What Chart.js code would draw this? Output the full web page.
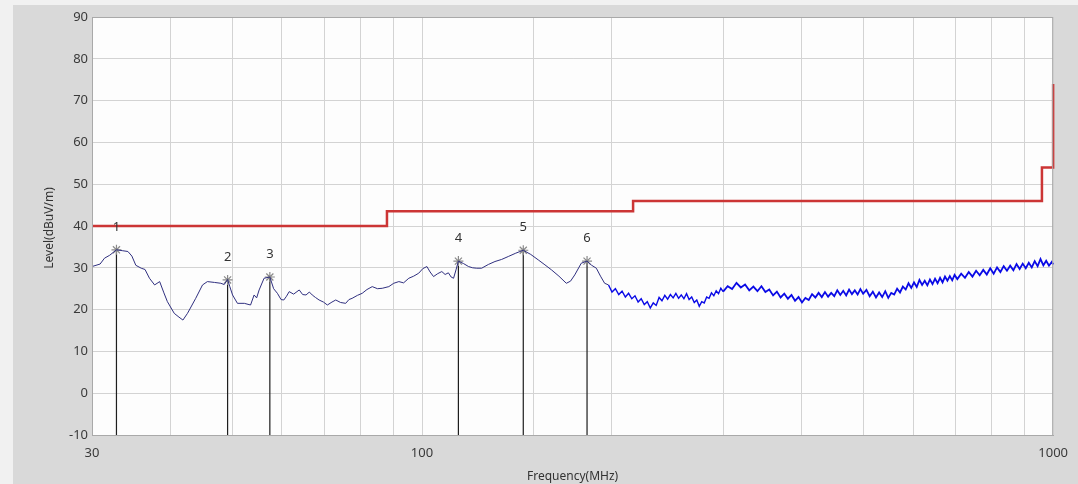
<!DOCTYPE html>
<html>
<head>
<meta charset="utf-8">
<script src="https://cdn.jsdelivr.net/npm/chart.js@4/dist/chart.umd.min.js"></script>
<style>
  html, body { margin: 0; padding: 0; background: #f1f1f1; }
  canvas { display: block; }
</style>
</head>
<body>
<canvas id="emiChart" width="1078" height="484"></canvas>
<script>
const freqs = [
  30.0, 30.9, 31.4, 32.0, 32.8, 33.5, 34.2, 34.7, 35.2, 35.9, 36.4, 37.0, 37.7, 38.4, 39.0, 39.5,
  40.5, 41.2, 41.8, 42.5, 43.8, 44.9, 45.7, 46.9, 48.0, 48.6, 49.2, 49.6, 50.1, 51.0, 52.3, 53.5,
  54.2, 54.7, 55.2, 56.2, 57.4, 58.2, 59.0, 59.8, 60.4, 61.0, 61.6, 62.6, 63.9, 64.7, 65.5, 66.3,
  67.0, 67.8, 68.7, 69.8, 70.8, 72.0, 73.0, 74.3, 75.7, 76.6, 77.5, 79.0, 80.4, 81.8, 83.4, 85.0,
  86.5, 88.6, 90.2, 91.9, 93.5, 95.3, 97.0, 98.8, 100.3, 101.8, 103.0, 104.3, 105.9, 107.5, 108.8, 110.1,
  111.2, 112.2, 113.2, 114.2, 116.4, 118.5, 120.3, 122.1, 124.3, 127.4, 130.5, 133.7, 137.0, 140.8, 144.7, 148.7,
  152.8, 156.6, 160.4, 164.8, 169.3, 171.9, 174.6, 178.8, 182.6, 185.7, 188.9, 191.8, 194.7,
  197.5, 200, 202.5, 205, 207.5, 210, 212.5, 215, 217.5, 220, 222.5, 225, 227.5, 230, 232.5, 235,
  237.5, 240, 242.5, 245, 247.5, 250, 252.5, 255, 257.5, 260, 262.5, 265, 267.5, 270, 272.5, 275,
  277.5, 280, 282.5, 285, 287.5, 290, 292.5, 295, 297.5, 300,
  305, 310, 315, 320, 325, 330, 335, 340, 345, 350, 355, 360, 365, 370, 375, 380,
  385, 390, 395, 400, 405, 410, 415, 420, 425, 430, 435, 440, 445, 450, 455, 460,
  465, 470, 475, 480, 485, 490, 495, 500,
  506, 512, 518, 524, 530, 536, 542, 548, 554, 560, 566, 572, 578, 584, 590, 596,
  602, 608, 614, 620, 626, 632, 638, 644, 650, 656, 662, 668, 674, 680, 686, 692, 698,
  705, 715, 725, 735, 745, 755, 765, 775, 785, 795, 805, 815, 825, 835, 845, 855,
  865, 875, 885, 895, 905, 915, 925, 935, 945, 955, 965, 975, 985, 995, 1000
];
const levels = [
  30.3, 30.9, 32.3, 33.0, 34.3, 34.1, 33.9, 32.8, 30.6, 29.9, 29.6, 27.5, 25.9, 26.7, 24.0, 21.9,
  19.1, 18.2, 17.5, 19.1, 22.7, 25.9, 26.7, 26.5, 26.3, 26.0, 27.2, 25.5, 23.5, 21.5, 21.5, 21.1,
  23.5, 22.8, 24.7, 27.5, 27.8, 25.0, 23.9, 22.4, 22.3, 23.2, 24.3, 23.7, 24.7, 23.6, 23.5, 24.2,
  23.5, 22.9, 22.3, 21.8, 21.1, 21.8, 22.3, 21.7, 21.5, 22.4, 22.7, 23.4, 23.9, 24.8, 25.5, 25.0,
  25.1, 25.5, 26.3, 26.7, 26.4, 27.5, 28.0, 28.7, 29.8, 30.3, 29.0, 27.9, 28.6, 29.1, 28.4, 28.8,
  27.8, 27.5, 29.5, 31.6, 31.0, 30.3, 30.0, 29.9, 29.9, 30.8, 31.5, 32.0, 32.7, 33.5, 34.2, 33.2,
  31.9, 30.7, 29.5, 28.0, 26.3, 26.8, 28.3, 31.1, 31.6, 30.6, 29.9, 28.0, 26.3,
  25.9, 24.2, 25.0, 23.6, 24.4, 23.0, 23.9, 22.6, 23.3, 21.8, 22.6, 21.2, 21.9, 20.4, 21.6, 21.0,
  22.9, 22.1, 23.4, 22.5, 23.6, 22.8, 23.9, 22.7, 23.5, 22.6, 23.8, 22.4, 23.0, 21.7, 22.3, 20.8,
  21.9, 21.6, 23.0, 22.7, 24.0, 23.3, 24.5, 23.8, 25.1, 24.3,
  25.6, 24.9, 26.4, 25.3, 26.0, 24.6, 25.5, 24.4, 25.6, 24.2, 24.8, 23.4, 24.3, 22.9, 23.8, 22.6,
  23.5, 22.1, 23.0, 21.7, 22.8, 22.3, 23.7, 22.9, 24.0, 23.0, 24.2, 23.1, 24.0, 23.2, 24.6, 23.5,
  24.5, 23.4, 24.8, 23.7, 24.6, 23.6, 24.9, 23.8,
  24.7, 23.2, 24.3, 22.9, 24.1, 23.0, 24.4, 22.8, 24.0, 23.6, 25.0, 24.1, 25.5, 24.8, 26.3, 25.2,
  26.5, 25.4, 27.1, 25.9, 26.9, 25.8, 27.2, 26.1, 27.4, 26.3, 27.6, 26.5, 27.9, 26.9, 28.0, 27.0, 28.3,
  27.3, 28.6, 27.6, 29.0, 27.9, 29.3, 28.2, 29.5, 28.4, 29.9, 28.6, 30.1, 29.0, 30.4, 29.3, 30.5,
  29.4, 30.9, 29.7, 31.0, 29.9, 31.2, 30.1, 31.6, 30.4, 32.1, 30.6, 31.7, 30.5, 31.4, 30.8
];

// limit line (steps)
const limitFreqs = [30, 88, 88, 216, 216, 960, 960, 1000, 1000];
const limitLevels = [40, 40, 43.5, 43.5, 46, 46, 54, 54, 74];

// peak markers
const markerFreqs = [32.8, 49.2, 57.4, 114.2, 144.7, 182.6];
const markerLevels = [34.3, 27.1, 27.8, 31.6, 34.2, 31.6];
const markerLabels = ['1', '2', '3', '4', '5', '6'];

const xTickLabels = [30, 100, 1000];
const yMin = -10, yMax = 90, yStep = 10;

const fontFamily = "'Noto Sans', 'Open Sans', sans-serif";

const traceData = freqs.map((f, i) => ({ x: f, y: levels[i] }));
const limitData = limitFreqs.map((f, i) => ({ x: f, y: limitLevels[i] }));

const markerSets = markerFreqs.map((f, i) => ({
    data: [{ x: f, y: markerLevels[i] }, { x: f, y: yMin }],
    borderColor: '#1e1e1e',
    borderWidth: 1.2,
    pointRadius: [5, 0],
    pointStyle: 'star',
    pointBorderColor: '#8a8a8a',
    pointBorderWidth: 1.2,
    order: 3
}));

const bgPlugin = {
    id: 'panelBg',
    beforeDraw(chart) {
        const c = chart.ctx;
        const a = chart.chartArea;
        c.save();
        c.fillStyle = '#f1f1f1';
        c.fillRect(0, 0, chart.width, chart.height);
        c.fillStyle = '#d9d9d9';
        c.fillRect(13, 5, chart.width - 13, chart.height - 5);
        c.fillStyle = '#fdfdfd';
        c.fillRect(a.left, a.top, a.right - a.left, a.bottom - a.top);
        c.restore();
    },
    afterDraw(chart) {
        const c = chart.ctx;
        const a = chart.chartArea;
        c.save();
        c.strokeStyle = '#a9a9a9';
        c.lineWidth = 1;
        c.strokeRect(a.left + 0.5, a.top + 0.5, a.right - a.left - 1, a.bottom - a.top);
        // axis titles
        c.fillStyle = '#333';
        c.font = '12px ' + fontFamily;
        c.textAlign = 'center';
        c.textBaseline = 'middle';
        c.fillText('Frequency(MHz)', (a.left + a.right) / 2, 477);
        c.translate(50, (a.top + a.bottom) / 2 + 2);
        c.rotate(-Math.PI / 2);
        c.fillText('Level(dBuV/m)', 0, 0);
        c.restore();
    }
};

const markerLabelPlugin = {
    id: 'markerLabels',
    afterDatasetsDraw(chart) {
        const c = chart.ctx;
        const xs = chart.scales.x, ys = chart.scales.y;
        c.save();
        c.fillStyle = '#333';
        c.font = '13px ' + fontFamily;
        c.textAlign = 'center';
        c.textBaseline = 'middle';
        markerFreqs.forEach((f, i) => {
            c.fillText(markerLabels[i], xs.getPixelForValue(f), ys.getPixelForValue(markerLevels[i]) - 23);
        });
        c.restore();
    }
};

new Chart(document.getElementById('emiChart'), {
    type: 'line',
    data: {
        datasets: [
            {
                data: traceData,
                borderWidth: 1,
                borderColor: '#303080',
                segment: {
                    borderColor: (ctx) => ctx.p0.parsed.x >= 195 ? '#0a0ae6' : '#303080',
                    borderWidth: (ctx) => ctx.p0.parsed.x >= 300 ? 1.8 : (ctx.p0.parsed.x >= 195 ? 1.4 : 1)
                },
                pointRadius: 0,
                tension: 0,
                order: 2
            },
            {
                data: limitData,
                borderColor: '#cc3535',
                borderWidth: 2.5,
                pointRadius: 0,
                tension: 0,
                order: 1
            },
            ...markerSets
        ]
    },
    options: {
        responsive: false,
        animation: false,
        clip: false,
        layout: { padding: { left: 0, top: 17, right: 21, bottom: 0 } },
        plugins: {
            legend: { display: false },
            tooltip: { enabled: false }
        },
        scales: {
            x: {
                type: 'logarithmic',
                min: 30,
                max: 1000,
                afterFit: (s) => { s.height = 49; },
                grid: { color: '#d3d3d3', drawTicks: false },
                border: { color: '#a9a9a9' },
                ticks: {
                    autoSkip: false,
                    maxRotation: 0,
                    padding: 10,
                    color: '#3a3a3a',
                    font: { family: fontFamily, size: 13 },
                    callback: (v) => xTickLabels.includes(Math.round(v)) ? String(Math.round(v)) : ''
                }
            },
            y: {
                min: yMin,
                max: yMax,
                afterFit: (s) => { s.width = 92; },
                grid: { color: '#d3d3d3', drawTicks: false },
                border: { color: '#a9a9a9' },
                ticks: {
                    stepSize: yStep,
                    padding: 4,
                    color: '#3a3a3a',
                    font: { family: fontFamily, size: 13 }
                }
            }
        }
    },
    plugins: [bgPlugin, markerLabelPlugin]
});
</script>
</body>
</html>
